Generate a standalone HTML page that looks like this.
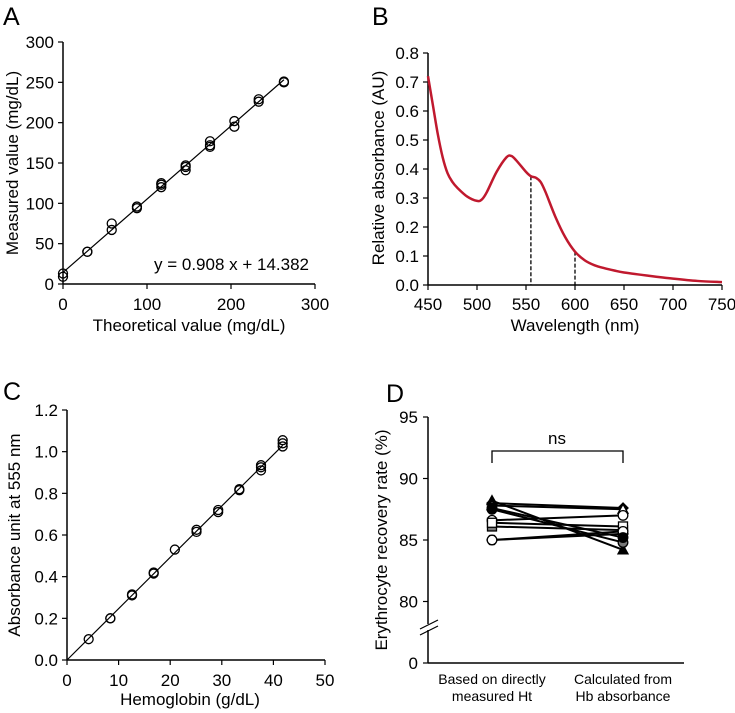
<!DOCTYPE html>
<html><head><meta charset="utf-8"><style>
body{margin:0;background:#fff;}
svg{display:block;font-family:"Liberation Sans",Arial,sans-serif;}
</style></head><body>
<svg id="fig" width="735" height="713" viewBox="0 0 735 713">
<g id="pA"></g>
<g id="pB"></g>
<g id="pC"></g>
<g id="pD"></g>
</svg>
<script>
// Panel A data
const aTheo = [0,0,29,29,58,58,88,88,117,117,117,146,146,146,175,175,175,204,204,233,233,263,263];
const aMeas = [9,13,40,40,67,75,94,96,120,123,125,141,145,147,170,172,177,195,202,226,229,250,251];
const aTicks = [0,50,100,150,200,250,300];
// Panel B data
const bWave = [450,455,460,465,470,475,480,490,500,505,510,520,530,535,540,550,555,560,565,570,580,590,600,610,620,630,640,650,675,700,725,750];
const bAbs  = [0.72,0.62,0.52,0.44,0.385,0.355,0.335,0.305,0.29,0.295,0.32,0.39,0.44,0.445,0.43,0.39,0.375,0.37,0.355,0.32,0.235,0.165,0.115,0.085,0.068,0.058,0.05,0.043,0.032,0.022,0.014,0.01];
const bDash = [555,600];
// Panel C data
const cHb  = [4.2,8.4,8.4,12.6,12.6,16.8,16.8,20.9,25.1,25.1,29.3,29.3,33.4,33.4,37.6,37.6,37.6,41.8,41.8,41.8];
const cAbs = [0.10,0.20,0.20,0.31,0.315,0.42,0.415,0.53,0.615,0.625,0.71,0.72,0.815,0.82,0.91,0.925,0.935,1.025,1.04,1.055];
// Panel D data
const dLeft  = [88.2,88.0,87.5,87.8,86.6,86.1,86.4,85.0,85.0,87.6];
const dRight = [84.2,87.6,84.8,87.5,87.0,85.8,86.1,85.5,85.7,85.2];
const dMarkers = ['tri-b','dia-b','cir-g','tri-w','cir-w','sq-g','sq-w','hex-w','cir-w','cir-b'];
const dCats = ['Based on directly|measured Ht','Calculated from|Hb absorbance'];

const NS='http://www.w3.org/2000/svg';
const FS=17;
function el(p,tag,attrs,txt){const e=document.createElementNS(NS,tag);for(const k in attrs)e.setAttribute(k,attrs[k]);if(txt!==undefined)e.textContent=txt;p.appendChild(e);return e;}
function axes(g,x0,y0,x1,y1){
  const a=el(g,'line',{x1:x0,y1:y0,x2:x0,y2:y1,stroke:'#000','stroke-width':1.5});
  
  const b=el(g,'line',{x1:x0,y1:y0,x2:x1,y2:y0,stroke:'#000','stroke-width':1.5});
  
}
function label(g,x,y,t){const e=el(g,'text',{x:x,y:y,'font-size':25},t);}

// ---------- A ----------
(function(){
const g=document.getElementById('pA');
const X=v=>63+v*252/300, Y=v=>284-v*242/300;
label(g,3,25,'A');
axes(g,63,284,315,42);
aTicks.forEach(t=>{
  el(g,'line',{x1:63,y1:Y(t),x2:58,y2:Y(t),stroke:'#000','stroke-width':1.2});
  const l=el(g,'text',{x:54,y:Y(t)+6,'font-size':FS,'text-anchor':'end'},t);
  
});
[0,100,200,300].forEach(t=>{
  el(g,'line',{x1:X(t),y1:284,x2:X(t),y2:289,stroke:'#000','stroke-width':1.2});
  const l=el(g,'text',{x:X(t),y:310,'font-size':FS,'text-anchor':'middle'},t);
  
});
const fl=el(g,'line',{x1:X(0),y1:Y(14.382),x2:X(263),y2:Y(0.908*263+14.382),stroke:'#000','stroke-width':1.2});

aTheo.forEach((v,i)=>{const c=el(g,'circle',{cx:X(v),cy:Y(aMeas[i]),r:4.5,fill:'none',stroke:'#000','stroke-width':1.3});
});
const eq=el(g,'text',{x:309,y:270,'font-size':FS,'text-anchor':'end'},'y = 0.908 x + 14.382');

const xt=el(g,'text',{x:189,y:331,'font-size':FS,'text-anchor':'middle'},'Theoretical value (mg/dL)');

const yt=el(g,'text',{x:0,y:0,'font-size':FS,'text-anchor':'middle',transform:'translate(18,163) rotate(-90)'},'Measured value (mg/dL)');

})();

// ---------- B ----------
(function(){
const g=document.getElementById('pB');
const X=v=>428+(v-450)*294/300, Y=v=>285-v*290;
label(g,372,25,'B');
axes(g,428,285,722,53);
[0,0.1,0.2,0.3,0.4,0.5,0.6,0.7,0.8].forEach(t=>{
  el(g,'line',{x1:428,y1:Y(t),x2:423,y2:Y(t),stroke:'#000','stroke-width':1.2});
  const l=el(g,'text',{x:419,y:Y(t)+6,'font-size':FS,'text-anchor':'end'},t.toFixed(1));
  
});
[450,500,550,600,650,700,750].forEach(t=>{
  el(g,'line',{x1:X(t),y1:285,x2:X(t),y2:290,stroke:'#000','stroke-width':1.2});
  const l=el(g,'text',{x:X(t),y:310,'font-size':FS,'text-anchor':'middle'},t);
  
});
bDash.forEach(w=>{
  let i=bWave.indexOf(w);const a=bAbs[i];
  const d=el(g,'line',{x1:X(w),y1:Y(a),x2:X(w),y2:285,stroke:'#000','stroke-width':1.3,'stroke-dasharray':'4,2'});
  
});
const pts=bWave.map((w,i)=>[X(w),Y(bAbs[i])]);
let d='M'+pts[0][0]+','+pts[0][1];
for(let i=0;i<pts.length-1;i++){const p0=pts[Math.max(0,i-1)],p1=pts[i],p2=pts[i+1],p3=pts[Math.min(pts.length-1,i+2)];
d+=' C'+(p1[0]+(p2[0]-p0[0])/6)+','+(p1[1]+(p2[1]-p0[1])/6)+' '+(p2[0]-(p3[0]-p1[0])/6)+','+(p2[1]-(p3[1]-p1[1])/6)+' '+p2[0]+','+p2[1];}
const c=el(g,'path',{d:d,fill:'none',stroke:'#c0192e','stroke-width':2.5});

const xt=el(g,'text',{x:575,y:331,'font-size':FS,'text-anchor':'middle'},'Wavelength (nm)');

const yt=el(g,'text',{x:0,y:0,'font-size':FS,'text-anchor':'middle',transform:'translate(384,168) rotate(-90)'},'Relative absorbance (AU)');

})();

// ---------- C ----------
(function(){
const g=document.getElementById('pC');
const X=v=>67+v*258/50, Y=v=>660-v*250/1.2;
label(g,3,400,'C');
axes(g,67,660,325,410);
[0,0.2,0.4,0.6,0.8,1.0,1.2].forEach(t=>{
  el(g,'line',{x1:67,y1:Y(t),x2:62,y2:Y(t),stroke:'#000','stroke-width':1.2});
  const l=el(g,'text',{x:58,y:Y(t)+6,'font-size':FS,'text-anchor':'end'},t.toFixed(1));
  
});
[0,10,20,30,40,50].forEach(t=>{
  el(g,'line',{x1:X(t),y1:660,x2:X(t),y2:665,stroke:'#000','stroke-width':1.2});
  const l=el(g,'text',{x:X(t),y:686,'font-size':FS,'text-anchor':'middle'},t);
  
});
const fl=el(g,'line',{x1:X(0),y1:Y(0),x2:X(41.8),y2:Y(1.03),stroke:'#000','stroke-width':1.2});

cHb.forEach((v,i)=>{const c=el(g,'circle',{cx:X(v),cy:Y(cAbs[i]),r:4.5,fill:'none',stroke:'#000','stroke-width':1.3});
});
const xt=el(g,'text',{x:190,y:705,'font-size':FS,'text-anchor':'middle'},'Hemoglobin  (g/dL)');

const yt=el(g,'text',{x:0,y:0,'font-size':FS,'text-anchor':'middle',transform:'translate(20,535) rotate(-90)'},'Absorbance unit at 555 nm');

})();

// ---------- D ----------
(function(){
const g=document.getElementById('pD');
const Y=v=>v===0?663:540-(v-85)*12.3;
const catX=[492,623];
label(g,386,402,'D');
el(g,'line',{x1:428,y1:417,x2:428,y2:624,stroke:'#000','stroke-width':1.5});
el(g,'line',{x1:428,y1:630,x2:428,y2:663,stroke:'#000','stroke-width':1.5});
el(g,'line',{x1:420,y1:629,x2:438,y2:620,stroke:'#000','stroke-width':1.2});
el(g,'line',{x1:420,y1:635,x2:438,y2:626,stroke:'#000','stroke-width':1.2});
el(g,'line',{x1:428,y1:663,x2:684,y2:663,stroke:'#000','stroke-width':1.5});
[0,80,85,90,95].forEach(t=>{
  el(g,'line',{x1:428,y1:Y(t),x2:423,y2:Y(t),stroke:'#000','stroke-width':1.2});
  const l=el(g,'text',{x:418,y:Y(t)+6,'font-size':FS,'text-anchor':'end'},t);
  
});
dCats.forEach((c,i)=>{const p=c.split('|');
  const l=el(g,'text',{x:catX[i],y:684,'font-size':14,'text-anchor':'middle'},p[0]);
  
  const l2=el(g,'text',{x:catX[i],y:701,'font-size':14,'text-anchor':'middle'},p[1]);
  
});
const br=el(g,'path',{d:'M'+catX[0]+',463 V451 H'+catX[1]+' V463',fill:'none',stroke:'#000','stroke-width':1.3});

const ns=el(g,'text',{x:557,y:444,'font-size':FS,'text-anchor':'middle'},'ns');

dLeft.forEach((v,i)=>{
  const ln=el(g,'line',{x1:catX[0],y1:Y(v),x2:catX[1],y2:Y(dRight[i]),stroke:'#000','stroke-width':2});
  
});
function marker(type,x,y){
  const [shape,col]=type.split('-');const fill=col==='b'?'#000':col==='g'?'#777':'#fff';
  let m;
  if(shape==='tri')m=el(g,'path',{d:`M${x},${y-5} L${x+5},${y+4} L${x-5},${y+4}Z`});
  else if(shape==='dia')m=el(g,'path',{d:`M${x},${y-5} L${x+5},${y} L${x},${y+5} L${x-5},${y}Z`});
  else if(shape==='sq')m=el(g,'rect',{x:x-4.5,y:y-4.5,width:9,height:9});
  else if(shape==='hex')m=el(g,'path',{d:`M${x-5},${y} L${x-2.5},${y-4.5} L${x+2.5},${y-4.5} L${x+5},${y} L${x+2.5},${y+4.5} L${x-2.5},${y+4.5}Z`});
  else m=el(g,'circle',{cx:x,cy:y,r:4.8});
  m.setAttribute('fill',fill);m.setAttribute('stroke','#000');m.setAttribute('stroke-width',1.3);
  return m;
}
dLeft.forEach((v,i)=>{
  const a=marker(dMarkers[i],catX[0],Y(v));
  
  
  const b=marker(dMarkers[i],catX[1],Y(dRight[i]));
  
  
});
const yt=el(g,'text',{x:0,y:0,'font-size':FS,'text-anchor':'middle',transform:'translate(387,540) rotate(-90)'},'Erythrocyte recovery rate (%)');

})();
</script>
</body></html>
